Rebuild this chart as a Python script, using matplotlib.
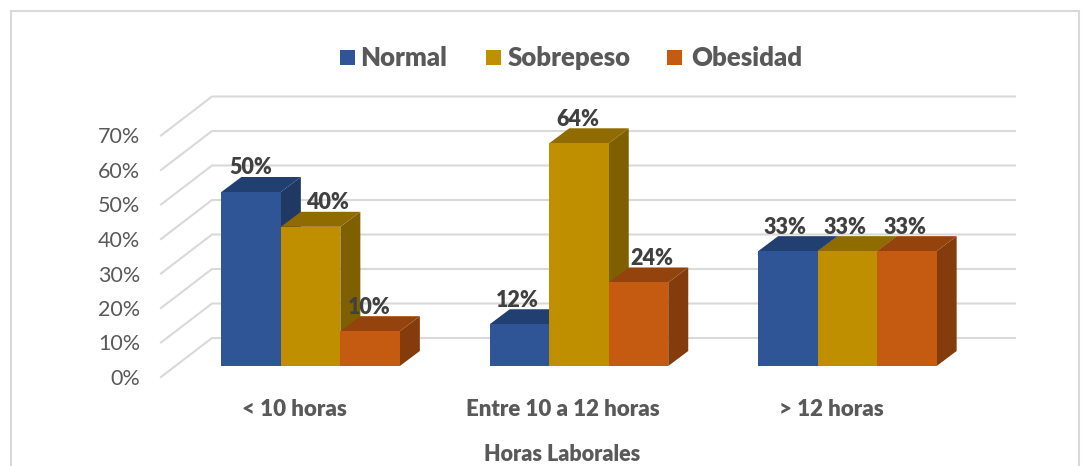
import matplotlib.pyplot as plt
from matplotlib.patches import Polygon, Rectangle

plt.rcParams['font.family'] = ['Lato', 'DejaVu Sans']

# data
categories = ['< 10 horas', 'Entre 10 a 12 horas', '> 12 horas']
series_names = ['Normal', 'Sobrepeso', 'Obesidad']
normal = [50, 12, 33]
sobrepeso = [40, 64, 33]
obesidad = [10, 24, 33]
y_ticks = [0, 10, 20, 30, 40, 50, 60, 70]

# colours (front, top, side)
front = ['#2f5597', '#bf8f00', '#c55a11']
top = ['#223f72', '#8f6b00', '#94430d']
side = ['#1f3864', '#7f6000', '#843c0c']
grid_col = '#d9d9d9'
text_col = '#595959'
label_col = '#404040'

# label nudges in pixels, the original has them moved by hand
label_dx = [[0, 17, -1], [-2, -1, 13], [-3, -2, -2]]

W, H = 1091, 466
GROUP_PX = 268.4   # px per category
PCT_PX = 3.48      # px per percent
WALL_PX = 3.45     # the wall scale is a bit tighter than the bars
X0, Y0 = 310.6, 366.0
BAR_W = 59.5 / GROUP_PX
DEPTH_X = 20 / GROUP_PX
DEPTH_Y = 15 / PCT_PX

fig = plt.figure(figsize=(W / 100, H / 100), dpi=100)
ax = fig.add_axes([0, 0, 1, 1])
ax.set_xlim(-X0 / GROUP_PX, (W - X0) / GROUP_PX)
ax.set_ylim(-(H - Y0) / PCT_PX, Y0 / PCT_PX)
ax.axis('off')

# chart frame, runs off the bottom of the picture
fig.patches.append(Rectangle((10.5 / W, -0.05), 1068 / W, 1.05 - 11 / H, transform=fig.transFigure,
                             fill=False, edgecolor=grid_col, linewidth=1.5))

# walls: floor is a little in front of the bars and the wall behind them
floor_front = -11 / PCT_PX
wall_x0 = (161 - X0) / GROUP_PX
wall_x1 = (212 - X0) / GROUP_PX
wall_x2 = (1015 - X0) / GROUP_PX
wall_rise = 39 / PCT_PX
for t in y_ticks:
    y = floor_front + t * WALL_PX / PCT_PX
    ax.plot([wall_x0, wall_x1, wall_x2], [y, y + wall_rise, y + wall_rise],
            color=grid_col, lw=1.5, zorder=1, solid_joinstyle='miter')
    ax.text(wall_x0 - 21 / GROUP_PX, y - 2 / PCT_PX, '%d%%' % t, ha='right', va='center',
            fontsize=15.5, color=text_col)

# bars
values = [normal, sobrepeso, obesidad]
z = 2
for g in range(len(categories)):
    for s in range(len(series_names)):
        v = values[s][g]
        x0 = g + (s - 1.5) * BAR_W
        x1 = x0 + BAR_W
        ax.add_patch(Polygon([(x1, 0), (x1 + DEPTH_X, DEPTH_Y), (x1 + DEPTH_X, v + DEPTH_Y), (x1, v)],
                             facecolor=side[s], edgecolor='none', zorder=z))
        ax.add_patch(Polygon([(x0, v), (x1, v), (x1 + DEPTH_X, v + DEPTH_Y), (x0 + DEPTH_X, v + DEPTH_Y)],
                             facecolor=top[s], edgecolor='none', zorder=z))
        ax.bar(x0, v, width=BAR_W, align='edge', color=front[s], zorder=z + 0.5)
        z += 1

# data labels on top of everything
for g in range(len(categories)):
    for s in range(len(series_names)):
        v = values[s][g]
        xc = g + (s - 1) * BAR_W + label_dx[g][s] / GROUP_PX
        ax.text(xc, v + 24 / PCT_PX, '%d%%' % v, ha='center', va='center', fontsize=15.5,
                fontweight='heavy', color=label_col, zorder=50)

# category labels and axis title
for g, name in enumerate(categories):
    ax.text(g - 16 / GROUP_PX, -43.5 / PCT_PX, name, ha='center', va='center', fontsize=16,
            fontweight='heavy', color=text_col)
ax.text(1 - 16.5 / GROUP_PX, -88.5 / PCT_PX, 'Horas Laborales', ha='center', va='center', fontsize=15.5,
        fontweight='heavy', color=text_col)

# legend
leg_swatch = [340, 486, 667]
leg_text = [360.5, 508, 691]
for s, name in enumerate(series_names):
    fig.patches.append(Rectangle((leg_swatch[s] / W, 1 - 65 / H), 15 / W, 15 / H, transform=fig.transFigure,
                                 facecolor=front[s], edgecolor='none'))
    fig.text(leg_text[s] / W, 1 - 58.5 / H, name, ha='left', va='center', fontsize=18.5,
             fontweight='heavy', color=text_col)

fig.savefig('out.png', dpi=100)
